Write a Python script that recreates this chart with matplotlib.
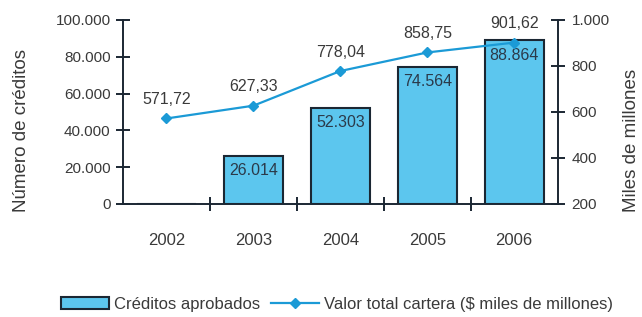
import numpy as np
import matplotlib.pyplot as plt
from matplotlib.ticker import FuncFormatter

plt.rcParams['font.family'] = ['Liberation Sans', 'DejaVu Sans']

# Datos
years = ['2002', '2003', '2004', '2005', '2006']
creditos = [0, 26014, 52303, 74564, 88864]
cartera = [571.72, 627.33, 778.04, 858.75, 901.62]

creditos_lbl = ['', '26.014', '52.303', '74.564', '88.864']
cartera_lbl = ['571,72', '627,33', '778,04', '858,75', '901,62']

bar_color = '#5cc6ee'
edge_color = '#1b2733'
line_color = '#1b9ad6'
text_color = '#3a3a3a'

fig = plt.figure(figsize=(6.42, 3.17), dpi=100)
ax = fig.add_axes([0.1916, 0.3565, 0.677, 0.5805])
ax2 = ax.twinx()

x = np.arange(len(years))

# Barras
bars = ax.bar(x, creditos, width=0.68, color=bar_color, edgecolor=edge_color,
              linewidth=1.5, label='Créditos aprobados', zorder=2)
for xi, val, lbl in zip(x, creditos, creditos_lbl):
    if lbl:
        ax.text(xi, val - 4000, lbl, ha='center', va='top', fontsize=11.5,
                color='#2b3a4a', zorder=3)

# Línea
line, = ax2.plot(x, cartera, color=line_color, linewidth=1.6, marker='D',
                 markersize=5, label='Valor total cartera ($ miles de millones)', zorder=4)
for xi, val, lbl in zip(x, cartera, cartera_lbl):
    ax2.text(xi, val + 50, lbl, ha='center', va='bottom', fontsize=11.5, color=text_color)

ax.set_xlim(-0.5, 4.5)
ax.set_ylim(0, 100000)
ax2.set_ylim(200, 1000)

fmt = FuncFormatter(lambda v, p: f'{int(v):,}'.replace(',', '.'))
ax.set_yticks(range(0, 100001, 20000))
ax.yaxis.set_major_formatter(fmt)
ax2.set_yticks(range(200, 1001, 200))
ax2.yaxis.set_major_formatter(fmt)

ax.set_xticks(x)
ax.set_xticklabels(years)
ax.set_xticks([0.5, 1.5, 2.5, 3.5], minor=True)

for a in (ax, ax2):
    a.spines['top'].set_visible(False)
    a.set_facecolor('none')
ax.spines['right'].set_visible(False)
ax2.spines['left'].set_visible(False)
ax2.spines['bottom'].set_visible(False)
for s in ('left', 'bottom'):
    ax.spines[s].set_linewidth(1.4)
    ax.spines[s].set_color(edge_color)
ax2.spines['right'].set_linewidth(1.4)
ax2.spines['right'].set_color(edge_color)

ax.tick_params(axis='y', direction='inout', length=10, width=1.4, color=edge_color,
               labelsize=11, labelcolor=text_color, pad=4)
ax2.tick_params(axis='y', direction='inout', length=10, width=1.4, color=edge_color,
                labelsize=11, labelcolor=text_color, pad=5)
ax.tick_params(axis='x', which='major', length=0, pad=21, labelsize=12, labelcolor=text_color)
ax.tick_params(axis='x', which='minor', direction='inout', length=10, width=1.4, color=edge_color)

fig.text(22 / 642, 1 - 131 / 317, 'Número de créditos', rotation=90, ha='center',
         va='center', fontsize=13.5, color=text_color)
fig.text(632 / 642, 1 - 140 / 317, 'Miles de millones', rotation=90, ha='center',
         va='center', fontsize=13.5, color=text_color)

fig.legend(handles=[bars, line], loc='lower center', bbox_to_anchor=(0.525, -0.03), ncol=2,
           frameon=False, fontsize=12, handlelength=2.9, columnspacing=0.6,
           handletextpad=0.3, labelcolor=text_color)

fig.savefig('out.png', dpi=100, facecolor='white')
